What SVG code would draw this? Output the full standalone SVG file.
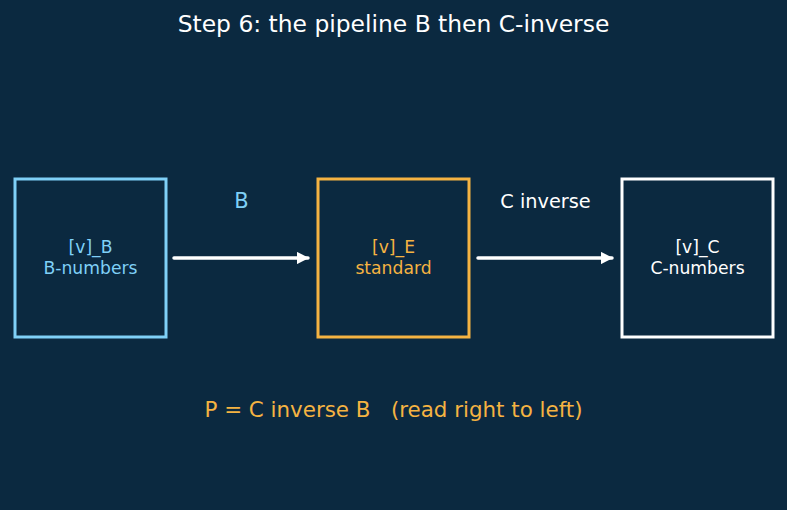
<svg xmlns="http://www.w3.org/2000/svg" width="787" height="510" viewBox="0 0 787 510">
<style>
text{font-family:"DejaVu Sans","Liberation Sans",sans-serif;text-anchor:middle}
.box{fill:#0b2940;stroke-width:3}
.lbl{font-size:17.2px}
.conn{stroke:#ffffff;stroke-width:3.5;fill:none;stroke-linecap:round}
</style>
<defs>
<marker id="ah" viewBox="0 0 10 10" refX="9" refY="5" markerWidth="3.5" markerHeight="3.5" orient="auto" markerUnits="strokeWidth">
<path d="M0,0 L10,5 L0,10 z" fill="#ffffff"/>
</marker>
</defs>
<rect width="787" height="510" fill="#0b2940"/>
<text x="393.5" y="32" font-size="23.4" fill="#ffffff">Step 6: the pipeline B then C-inverse</text>
<g id="nodeB">
<rect class="box" x="15" y="179" width="151" height="158" stroke="#7fd0f7"/>
<text class="lbl" x="90.5" y="253" fill="#7fd0f7">[v]_B</text>
<text class="lbl" x="90.5" y="274" fill="#7fd0f7">B-numbers</text>
</g>
<g id="nodeE">
<rect class="box" x="318" y="179" width="151" height="158" stroke="#f5b342"/>
<text class="lbl" x="393.5" y="253" fill="#f5b342">[v]_E</text>
<text class="lbl" x="393.5" y="274" fill="#f5b342">standard</text>
</g>
<g id="nodeC">
<rect class="box" x="622" y="179" width="151" height="158" stroke="#ffffff"/>
<text class="lbl" x="697.5" y="253" fill="#ffffff">[v]_C</text>
<text class="lbl" x="697.5" y="274" fill="#ffffff">C-numbers</text>
</g>
<g id="connectors">
<line class="conn" x1="174" y1="258" x2="308" y2="258" marker-end="url(#ah)"/>
<text x="241.5" y="208" font-size="21" fill="#7fd0f7">B</text>
<line class="conn" x1="478" y1="258" x2="612" y2="258" marker-end="url(#ah)"/>
<text x="545.5" y="208" font-size="19.3" fill="#ffffff">C inverse</text>
</g>
<text x="393.5" y="417" font-size="21.4" fill="#f5b342" xml:space="preserve">P = C inverse B   (read right to left)</text>
</svg>
